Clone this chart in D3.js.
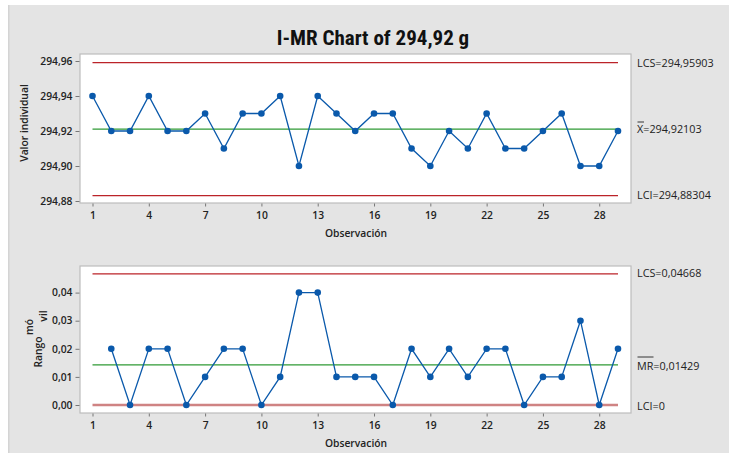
<!DOCTYPE html>
<html><head><meta charset="utf-8">
<script src="https://cdn.jsdelivr.net/npm/d3@7"></script>
<style>
html,body{margin:0;padding:0;background:#fff;}
svg{display:block;}
.tick text{font-family:"Open Sans",sans-serif;font-size:10.3px;font-weight:600;fill:#222;}
</style></head>
<body>
<svg id="c" width="729" height="453"></svg>
<script>
const observations = d3.range(1, 30);
const individualValues = [294.94,294.92,294.92,294.94,294.92,294.92,294.93,294.91,294.93,294.93,
  294.94,294.90,294.94,294.93,294.92,294.93,294.93,294.91,294.90,294.92,
  294.91,294.93,294.91,294.91,294.92,294.93,294.90,294.90,294.92];
const movingRanges = [null,0.02,0,0.02,0.02,0,0.01,0.02,0.02,0,
  0.01,0.04,0.04,0.01,0.01,0.01,0,0.02,0.01,0.02,
  0.01,0.02,0.02,0,0.01,0.01,0.03,0,0.02];
const iLimits = {lcs:294.95903, center:294.92103, lci:294.88304};
const mrLimits = {lcs:0.04668, center:0.01429, lci:0};
const iTicks = [294.88,294.90,294.92,294.94,294.96];
const mrTicks = [0,0.01,0.02,0.03,0.04];
const xTicks = [1,4,7,10,13,16,19,22,25,28];
const fmtComma = d => d.toFixed(2).replace('.', ',');

const svg = d3.select('#c');
svg.append('rect').attr('x',8).attr('y',5).attr('width',721).attr('height',448).attr('fill','#e4e4e4');
svg.append('rect').attr('x',8).attr('y',5).attr('width',1.5).attr('height',448).attr('fill','#d4d4d4');

svg.append('text').attr('x',373).attr('y',45).attr('text-anchor','middle')
  .attr('font-family','"Liberation Sans Narrow","Arial Narrow","Roboto Condensed",sans-serif')
  .attr('font-weight','bold').attr('font-size',21).attr('fill','#111')
  .text('I-MR Chart of 294,92 g');

const x = d3.scaleLinear().domain([1,29]).range([92.5,618]);
const RED='#bb2329', GREEN='#2f9a35', BLUE='#0a59ab';

function panel(cfg){
  const g = svg.append('g');
  g.append('rect').attr('x',80).attr('y',cfg.top).attr('width',551).attr('height',cfg.bottom-cfg.top)
    .attr('fill','#fff').attr('stroke','#bdbdbd').attr('stroke-width',1.2);
  const y = cfg.y;
  const ya = g.append('g').attr('transform','translate(79.5,0)')
    .call(d3.axisLeft(y).tickValues(cfg.ticks).tickFormat(fmtComma).tickSizeOuter(0).tickSize(4));
  ya.select('.domain').remove();
  ya.selectAll('line').attr('stroke','#777');
  const xa = g.append('g').attr('transform',`translate(0,${cfg.bottom+0.5})`)
    .call(d3.axisBottom(x).tickValues(xTicks).tickFormat(d3.format('d')).tickSizeOuter(0).tickSize(3).tickPadding(5));
  xa.select('.domain').remove();
  xa.selectAll('line').attr('stroke','#777');
  const lim = cfg.limits;
  g.append('line').attr('x1',x(1)).attr('x2',x(29)).attr('y1',y(lim.lcs)).attr('y2',y(lim.lcs))
    .attr('stroke',RED).attr('stroke-width',1.3);
  g.append('line').attr('x1',x(1)).attr('x2',x(29)).attr('y1',y(lim.center)).attr('y2',y(lim.center))
    .attr('stroke',GREEN).attr('stroke-width',1.3);
  g.append('line').attr('x1',x(1)).attr('x2',x(29)).attr('y1',y(lim.lci)).attr('y2',y(lim.lci))
    .attr('stroke',cfg.lciColor||RED).attr('stroke-width',cfg.lciWidth||1.3);
  const pts = cfg.values.map((v,i)=>({o:observations[i],v})).filter(d=>d.v!==null);
  g.append('path').datum(pts).attr('fill','none').attr('stroke',BLUE).attr('stroke-width',1.3)
    .attr('d',d3.line().x(d=>x(d.o)).y(d=>y(d.v)));
  g.selectAll('circle.p').data(pts).enter().append('circle').attr('class','p')
    .attr('cx',d=>x(d.o)).attr('cy',d=>y(d.v)).attr('r',3.3).attr('fill',BLUE);
  g.append('text').attr('x',356).attr('y',cfg.bottom+34).attr('text-anchor','middle')
    .attr('font-family','"Open Sans",sans-serif').attr('font-size',10.3).attr('font-weight',600).attr('fill','#222')
    .text('Observación');
  const lab = (yy, t) => g.append('text').attr('x',637).attr('y',yy+3.8)
    .attr('font-family','"Open Sans",sans-serif').attr('font-size',10.8).attr('fill','#222').text(t);
  cfg.labels.forEach(l => lab(l.y, l.t));
  return {g,y};
}

const yI = d3.scaleLinear().domain([294.88,294.96]).range([201,61]);
panel({top:54,bottom:203,y:yI,ticks:iTicks,limits:iLimits,values:individualValues,
  labels:[{y:63,t:'LCS=294,95903'},{y:129,t:'X=294,92103'},{y:195,t:'LCI=294,88304'}]});
svg.append('line').attr('x1',637.5).attr('x2',644).attr('y1',122).attr('y2',122).attr('stroke','#222').attr('stroke-width',0.9);
svg.append('text').attr('transform','translate(28,123) rotate(-90)').attr('text-anchor','middle')
  .attr('font-family','"Open Sans",sans-serif').attr('font-size',10.3).attr('font-weight',600).attr('fill','#222')
  .text('Valor individual');

const yM = d3.scaleLinear().domain([0,0.04]).range([405,292.6]);
panel({top:266,bottom:413,y:yM,ticks:mrTicks,limits:mrLimits,values:movingRanges,
  lciColor:'#cf8383',lciWidth:2.6,
  labels:[{y:273,t:'LCS=0,04668'},{y:366,t:'MR=0,01429'},{y:406,t:'LCI=0'}]});
svg.append('line').attr('x1',637.5).attr('x2',653.5).attr('y1',357).attr('y2',357).attr('stroke','#222').attr('stroke-width',0.9);

const rlab = (xx,yy,t) => svg.append('text').attr('transform',`translate(${xx},${yy}) rotate(-90)`).attr('text-anchor','middle')
  .attr('font-family','"Open Sans",sans-serif').attr('font-size',10.3).attr('font-weight',600).attr('fill','#222').text(t);
rlab(42,352,'Rango');
rlab(33,327,'mó');
rlab(47,316,'vil');
</script>
</body></html>
